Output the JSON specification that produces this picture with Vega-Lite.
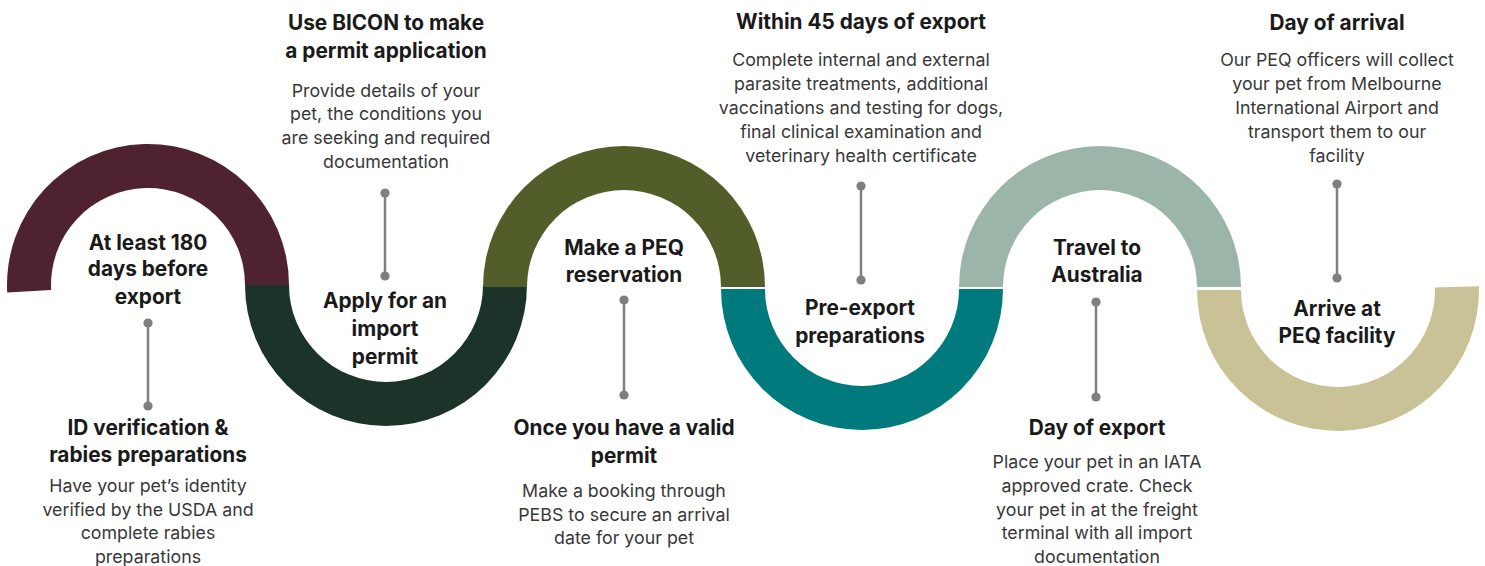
{
  "$schema": "https://vega.github.io/schema/vega-lite/v6.json",
  "width": 1485,
  "height": 566,
  "padding": 0,
  "autosize": {"type": "none"},
  "background": "white",
  "config": {"view": {"stroke": null}},
  "datasets": {
    "arcs": [
      {"step": "s1", "cx": 148, "cy": 285, "t0": -93, "t1": 90},
      {"step": "s2", "cx": 386, "cy": 285, "t0": 90, "t1": 270},
      {"step": "s3", "cx": 624, "cy": 287, "t0": -90, "t1": 90},
      {"step": "s4", "cx": 862, "cy": 289, "t0": 90, "t1": 270},
      {"step": "s5", "cx": 1100, "cy": 287, "t0": -90, "t1": 90},
      {"step": "s6", "cx": 1338, "cy": 290, "t0": 88.5, "t1": 270}
    ],
    "links": [
      {"x": 148, "top": 323, "bottom": 406},
      {"x": 385, "top": 193, "bottom": 276},
      {"x": 624, "top": 300, "bottom": 395},
      {"x": 861, "top": 186, "bottom": 280},
      {"x": 1096, "top": 302, "bottom": 397},
      {"x": 1337, "top": 184, "bottom": 278}
    ],
    "lines": [
      {"kind": "bold", "x": 148, "y": 242, "t": "At least 180"},
      {"kind": "bold", "x": 148, "y": 268, "t": "days before"},
      {"kind": "bold", "x": 148, "y": 296, "t": "export"},
      {"kind": "bold", "x": 385, "y": 300, "t": "Apply for an"},
      {"kind": "bold", "x": 385, "y": 328, "t": "import"},
      {"kind": "bold", "x": 385, "y": 356, "t": "permit"},
      {"kind": "bold", "x": 624, "y": 247, "t": "Make a PEQ"},
      {"kind": "bold", "x": 624, "y": 274, "t": "reservation"},
      {"kind": "bold", "x": 860, "y": 307, "t": "Pre-export"},
      {"kind": "bold", "x": 860, "y": 335, "t": "preparations"},
      {"kind": "bold", "x": 1097, "y": 247, "t": "Travel to"},
      {"kind": "bold", "x": 1097, "y": 274, "t": "Australia"},
      {"kind": "bold", "x": 1337, "y": 308, "t": "Arrive at"},
      {"kind": "bold", "x": 1337, "y": 335, "t": "PEQ facility"},
      {"kind": "bold", "x": 148, "y": 427, "t": "ID verification &"},
      {"kind": "bold", "x": 148, "y": 454, "t": "rabies preparations"},
      {"kind": "bold", "x": 386, "y": 22, "t": "Use BICON to make"},
      {"kind": "bold", "x": 386, "y": 50, "t": "a permit application"},
      {"kind": "bold", "x": 624, "y": 427, "t": "Once you have a valid"},
      {"kind": "bold", "x": 624, "y": 455, "t": "permit"},
      {"kind": "bold", "x": 861, "y": 21, "t": "Within 45 days of export"},
      {"kind": "bold", "x": 1097, "y": 427, "t": "Day of export"},
      {"kind": "bold", "x": 1337, "y": 22, "t": "Day of arrival"},
      {"kind": "body", "x": 148, "y": 486, "t": "Have your pet’s identity"},
      {"kind": "body", "x": 148, "y": 510, "t": "verified by the USDA and"},
      {"kind": "body", "x": 148, "y": 533, "t": "complete rabies"},
      {"kind": "body", "x": 148, "y": 557, "t": "preparations"},
      {"kind": "body", "x": 386, "y": 91, "t": "Provide details of your"},
      {"kind": "body", "x": 386, "y": 114, "t": "pet, the conditions you"},
      {"kind": "body", "x": 386, "y": 138, "t": "are seeking and required"},
      {"kind": "body", "x": 386, "y": 162, "t": "documentation"},
      {"kind": "body", "x": 624, "y": 491, "t": "Make a booking through"},
      {"kind": "body", "x": 624, "y": 515, "t": "PEBS to secure an arrival"},
      {"kind": "body", "x": 624, "y": 538, "t": "date for your pet"},
      {"kind": "body", "x": 861, "y": 60, "t": "Complete internal and external"},
      {"kind": "body", "x": 861, "y": 84, "t": "parasite treatments, additional"},
      {"kind": "body", "x": 861, "y": 108, "t": "vaccinations and testing for dogs,"},
      {"kind": "body", "x": 861, "y": 132, "t": "final clinical examination and"},
      {"kind": "body", "x": 861, "y": 156, "t": "veterinary health certificate"},
      {"kind": "body", "x": 1097, "y": 462, "t": "Place your pet in an IATA"},
      {"kind": "body", "x": 1097, "y": 486, "t": "approved crate. Check"},
      {"kind": "body", "x": 1097, "y": 510, "t": "your pet in at the freight"},
      {"kind": "body", "x": 1097, "y": 533, "t": "terminal with all import"},
      {"kind": "body", "x": 1097, "y": 557, "t": "documentation"},
      {"kind": "body", "x": 1337, "y": 60, "t": "Our PEQ officers will collect"},
      {"kind": "body", "x": 1337, "y": 84, "t": "your pet from Melbourne"},
      {"kind": "body", "x": 1337, "y": 108, "t": "International Airport and"},
      {"kind": "body", "x": 1337, "y": 132, "t": "transport them to our"},
      {"kind": "body", "x": 1337, "y": 156, "t": "facility"}
    ]
  },
  "layer": [
    {
      "data": {"name": "arcs"},
      "mark": {"type": "arc", "outerRadius": 141, "innerRadius": 97},
      "encoding": {
        "x": {"field": "cx", "type": "quantitative", "scale": {"domain": [0, 1485], "nice": false, "zero": false}, "axis": null},
        "y": {"field": "cy", "type": "quantitative", "scale": {"domain": [0, 566], "nice": false, "zero": false, "reverse": true}, "axis": null},
        "theta": {"field": "t0", "type": "quantitative", "stack": null, "scale": {"domain": [0, 360], "range": [0, 6.283185307], "zero": false, "nice": false}},
        "theta2": {"field": "t1"},
        "color": {"field": "step", "type": "nominal", "legend": null, "scale": {"domain": ["s1", "s2", "s3", "s4", "s5", "s6"], "range": ["#4F222F", "#1B3329", "#525E29", "#007A7D", "#9BB5A8", "#C9C297"]}}
      }
    },
    {
      "data": {"name": "links"},
      "mark": {"type": "rule", "color": "#7F7F7F", "strokeWidth": 2.5},
      "encoding": {
        "x": {"field": "x", "type": "quantitative"},
        "y": {"field": "top", "type": "quantitative"},
        "y2": {"field": "bottom"}
      }
    },
    {
      "data": {"name": "links"},
      "transform": [{"fold": ["top", "bottom"], "as": ["end", "yy"]}],
      "mark": {"type": "point", "filled": true, "color": "#7F7F7F", "opacity": 1, "size": 85, "shape": "circle"},
      "encoding": {
        "x": {"field": "x", "type": "quantitative"},
        "y": {"field": "yy", "type": "quantitative"}
      }
    },
    {
      "data": {"name": "lines"},
      "transform": [{"filter": "datum.kind === 'bold'"}],
      "mark": {"type": "text", "font": "Inter", "fontSize": 20.8, "fontWeight": 700, "color": "#1A1A1A", "align": "center", "baseline": "middle", "dy": 1.5},
      "encoding": {
        "x": {"field": "x", "type": "quantitative"},
        "y": {"field": "y", "type": "quantitative"},
        "text": {"field": "t"}
      }
    },
    {
      "data": {"name": "lines"},
      "transform": [{"filter": "datum.kind === 'body'"}],
      "mark": {"type": "text", "font": "Inter", "fontSize": 17.8, "fontWeight": 400, "color": "#383838", "align": "center", "baseline": "middle", "dy": 1}
      ,
      "encoding": {
        "x": {"field": "x", "type": "quantitative"},
        "y": {"field": "y", "type": "quantitative"},
        "text": {"field": "t"}
      }
    }
  ]
}
